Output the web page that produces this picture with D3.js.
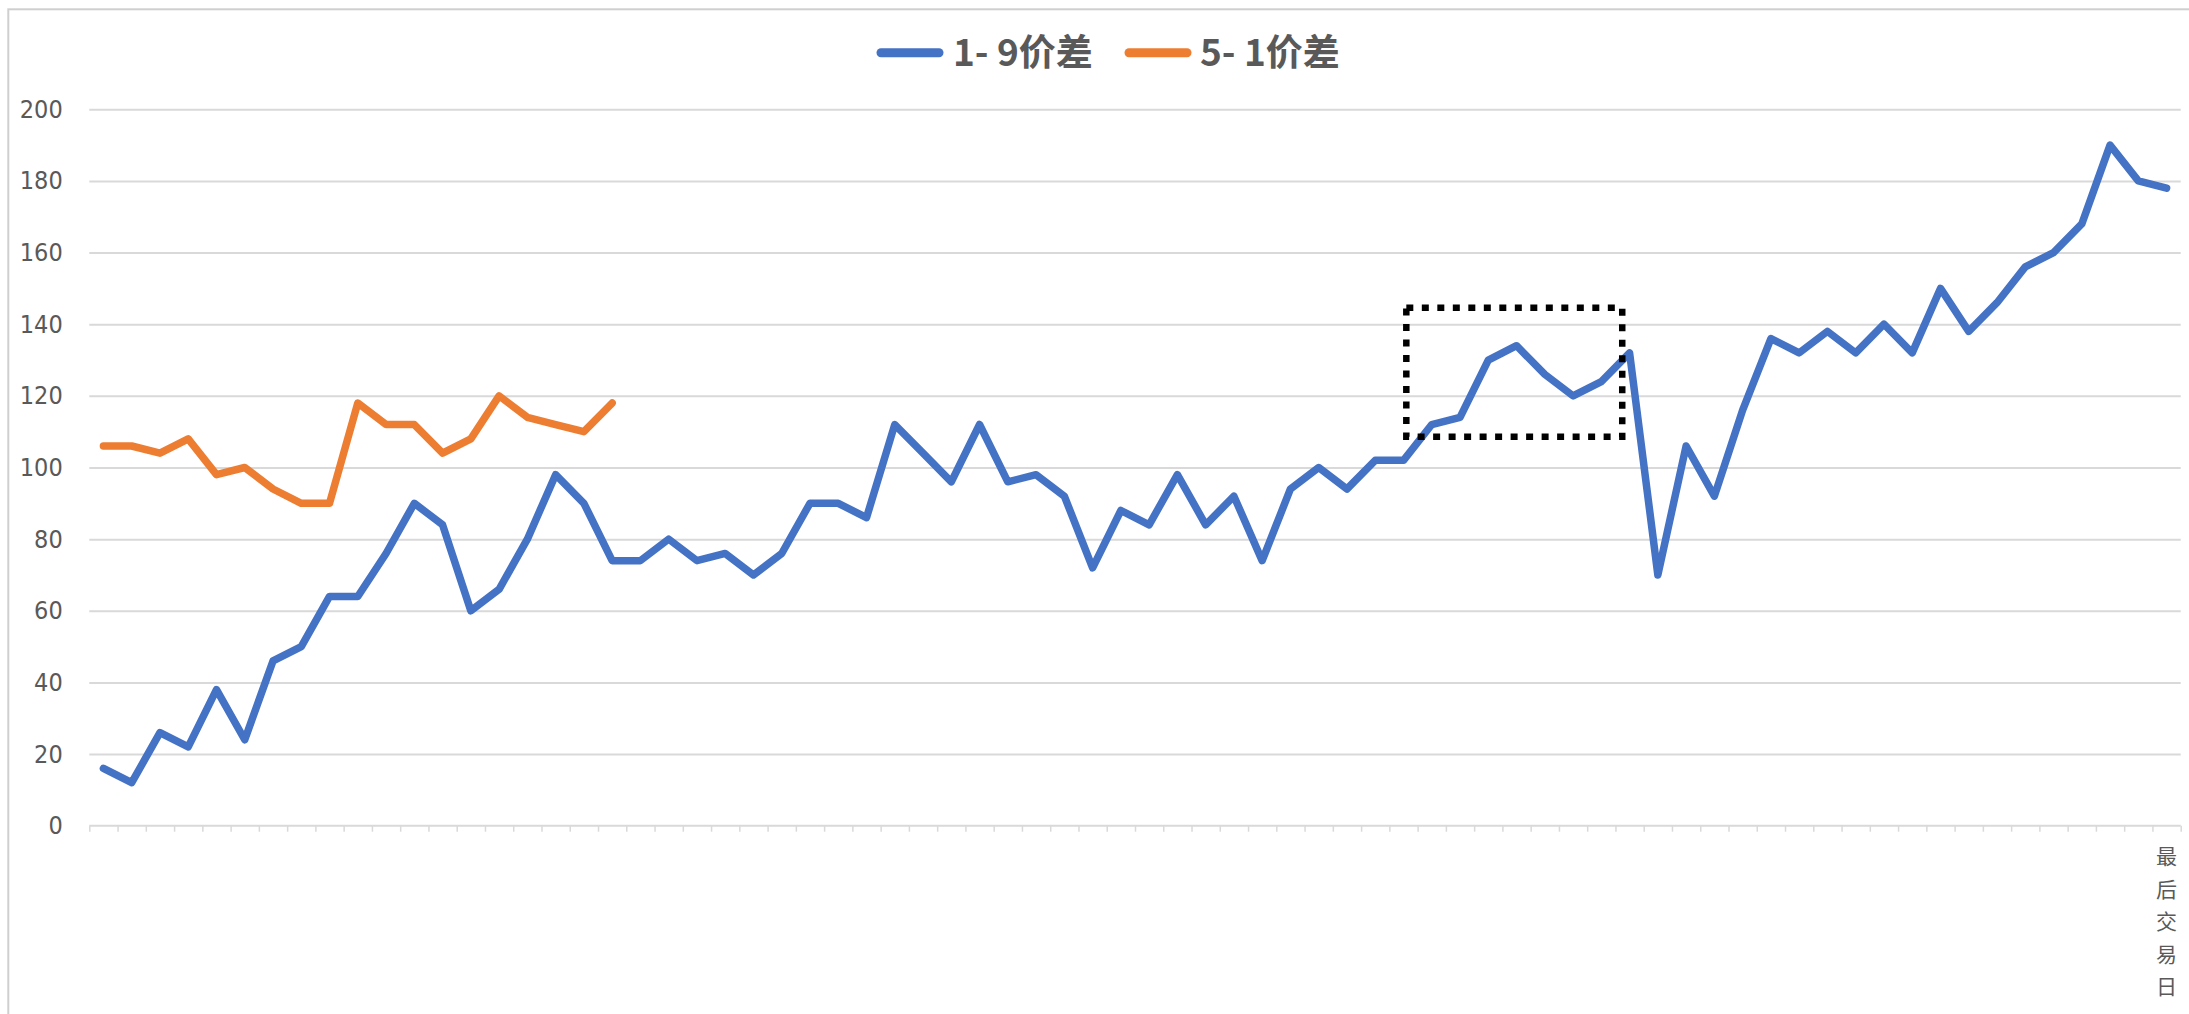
<!DOCTYPE html>
<html>
<head>
<meta charset="utf-8">
<script src="https://cdn.jsdelivr.net/npm/d3@7"></script>
<style>
  html, body { margin: 0; padding: 0; background: #ffffff; }
  svg { display: block; }
</style>
</head>
<body>
<svg id="chart" width="2189" height="1014"></svg>
<script>
// ---------------- data ----------------
const seriesNames = ["1- 9价差", "5- 1价差"];
const seriesColors = ["#4472C4", "#ED7D31"];

const spread1to9 = [
  16, 12, 26, 22, 38, 24, 46, 50, 64, 64,
  76, 90, 84, 60, 66, 80, 98, 90, 74, 74,
  80, 74, 76, 70, 76, 90, 90, 86, 112, 104,
  96, 112, 96, 98, 92, 72, 88, 84, 98, 84,
  92, 74, 94, 100, 94, 102, 102, 112, 114, 130,
  134, 126, 120, 124, 132, 70, 106, 92, 116, 136,
  132, 138, 132, 140, 132, 150, 138, 146, 156, 160,
  168, 190, 180, 178
];

const spread5to1 = [
  106, 106, 104, 108, 98, 100, 94, 90, 90, 118,
  112, 112, 104, 108, 120, 114, 112, 110, 118
];

const categoryLabels = [
  "", "", "", "", "", "", "", "", "", "",
  "", "", "", "", "", "", "", "", "", "",
  "", "", "", "", "", "", "", "", "", "",
  "", "", "", "", "", "", "", "", "", "",
  "", "", "", "", "", "", "", "", "", "",
  "", "", "", "", "", "", "", "", "", "",
  "", "", "", "", "", "", "", "", "", "",
  "", "", "", "最后交易日"
];

const yTickValues = [0, 20, 40, 60, 80, 100, 120, 140, 160, 180, 200];

// dotted highlight box, in category-index / value units
const highlightIndexRange = [46.1, 53.74];
const highlightValueRange = [108.6, 144.6];

// ---------------- layout ----------------
const W = 2189, H = 1014;
const plot = { left: 89.3, right: 2180.7, top: 109.3, bottom: 825.7 };
const textGray = "#595959";
const gridGray = "#D9D9D9";
const numFont = "'Liberation Sans Narrow', 'DejaVu Sans Condensed', 'Roboto Condensed', Roboto, 'Noto Sans CJK SC', sans-serif";
const cjkFont = "'Noto Sans CJK SC', 'Noto Sans', sans-serif";

const n = categoryLabels.length;
const x = d3.scaleLinear().domain([0, n]).range([plot.left, plot.right]);
const y = d3.scaleLinear().domain([0, 200]).range([plot.bottom, plot.top]);

const svg = d3.select("#chart");

svg.append("rect").attr("width", W).attr("height", H).attr("fill", "#ffffff");

// chart-area border (cut at right and bottom)
svg.append("rect")
  .attr("x", 8.3).attr("y", 9.3)
  .attr("width", W + 40).attr("height", H + 40)
  .attr("fill", "none")
  .attr("stroke", "#CFCFCF")
  .attr("stroke-width", 2);

// gridlines
const grid = svg.append("g")
  .attr("transform", `translate(${plot.left},0)`)
  .call(d3.axisLeft(y).tickValues(yTickValues.filter(v => v !== 0))
    .tickSize(-(plot.right - plot.left)).tickFormat(""));
grid.select(".domain").remove();
grid.selectAll(".tick line").attr("stroke", gridGray).attr("stroke-width", 2);

// y axis labels
const yAxis = svg.append("g")
  .attr("transform", `translate(62.7,0)`)
  .call(d3.axisLeft(y).tickValues(yTickValues).tickSize(0).tickPadding(0));
yAxis.select(".domain").remove();
yAxis.selectAll(".tick text")
  .attr("fill", textGray)
  .style("font-family", numFont)
  .style("font-size", "25px");

// x axis (category axis with ticks between categories)
const xAxis = svg.append("g")
  .attr("transform", `translate(0,${plot.bottom})`)
  .call(d3.axisBottom(x).tickValues(d3.range(n + 1)).tickSize(6).tickFormat(""));
xAxis.select(".domain").attr("stroke", gridGray).attr("stroke-width", 2)
  .attr("d", `M${plot.left},0H${plot.right}`);
xAxis.selectAll(".tick line").attr("stroke", gridGray).attr("stroke-width", 1.5);

// category labels (vertical stacked characters)
const catG = svg.append("g");
categoryLabels.forEach((lab, i) => {
  if (!lab) return;
  const chars = Array.from(lab);
  const t = catG.append("text")
    .attr("x", x(i + 0.5))
    .attr("y", plot.bottom + 31)
    .attr("text-anchor", "middle")
    .attr("fill", textGray)
    .style("font-family", cjkFont)
    .style("font-size", "21px");
  chars.forEach((c, k) => {
    t.append("tspan")
      .attr("x", x(i + 0.5))
      .attr("dy", k === 0 ? "0.35em" : "32.5px")
      .text(c);
  });
});

// lines
const line = d3.line()
  .defined(d => d != null)
  .x((d, i) => x(i + 0.5))
  .y(d => y(d));

[spread1to9, spread5to1].forEach((vals, s) => {
  svg.append("path")
    .datum(vals)
    .attr("fill", "none")
    .attr("stroke", seriesColors[s])
    .attr("stroke-width", 7.5)
    .attr("stroke-linejoin", "round")
    .attr("stroke-linecap", "round")
    .attr("d", line);
});

// dotted highlight rectangle
svg.append("rect")
  .attr("x", x(highlightIndexRange[0] + 0.5))
  .attr("y", y(highlightValueRange[1]))
  .attr("width", x(highlightIndexRange[1] + 0.5) - x(highlightIndexRange[0] + 0.5))
  .attr("height", y(highlightValueRange[0]) - y(highlightValueRange[1]))
  .attr("fill", "none")
  .attr("stroke", "#000000")
  .attr("stroke-width", 6.5)
  .attr("stroke-dasharray", "7 8.5");

// legend
const legend = svg.append("g");
const legendItems = [
  { x1: 881, x2: 939, tx: 953 },
  { x1: 1129, x2: 1187, tx: 1200 }
];
legendItems.forEach((it, s) => {
  legend.append("line")
    .attr("x1", it.x1).attr("x2", it.x2)
    .attr("y1", 52.7).attr("y2", 52.7)
    .attr("stroke", seriesColors[s])
    .attr("stroke-width", 9)
    .attr("stroke-linecap", "round");
  legend.append("text")
    .attr("x", it.tx).attr("y", 52.7)
    .attr("dy", "0.36em")
    .attr("fill", textGray)
    .style("font-family", cjkFont)
    .style("font-weight", "bold")
    .style("font-size", "37px")
    .text(seriesNames[s]);
});
</script>
</body>
</html>
